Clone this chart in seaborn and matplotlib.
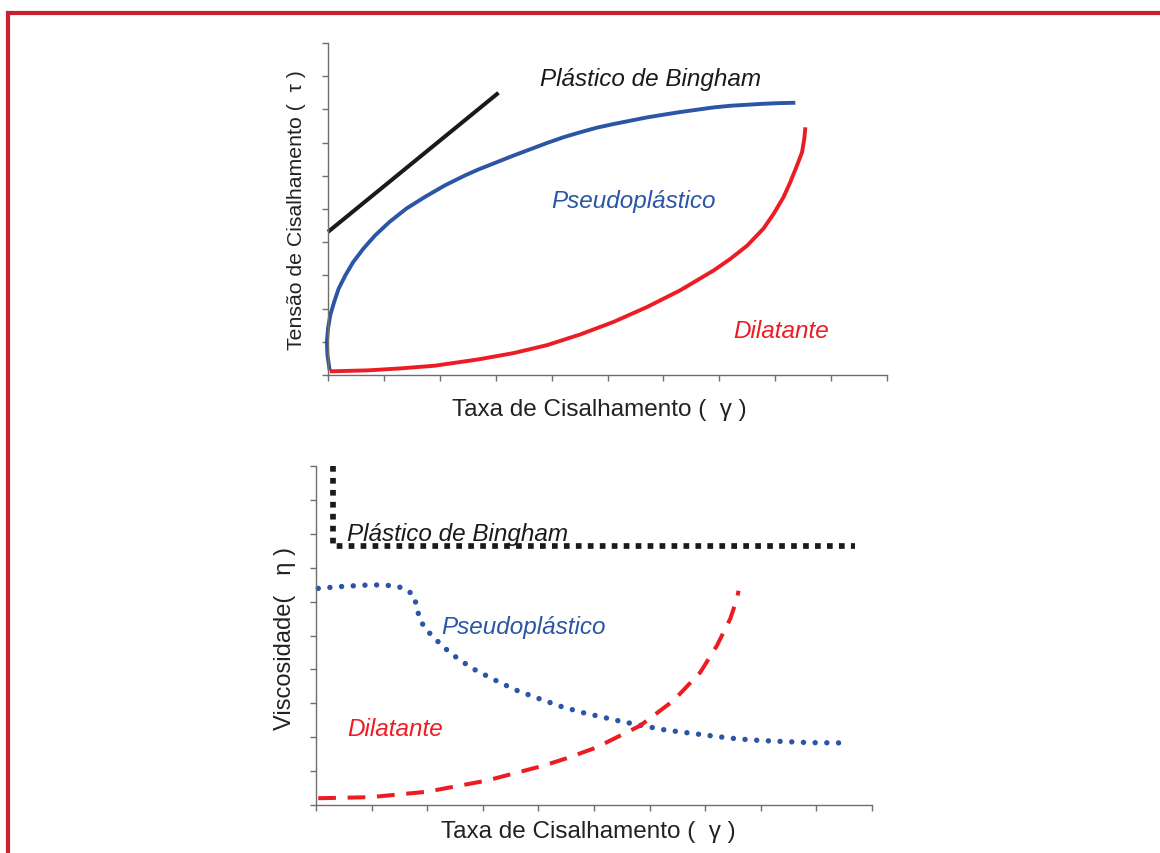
import matplotlib
matplotlib.use("Agg")
import matplotlib.pyplot as plt
from matplotlib.patches import Rectangle
import seaborn as sns

# ---- Tensão de cisalhamento x taxa de cisalhamento ----
bingham_tau_x = [0.0, 3.05]
bingham_tau_y = [4.31, 8.50]

pseudo_tau_x = [0.03, -0.01, -0.02, 0.0, 0.04, 0.11, 0.19, 0.31, 0.45, 0.63,
                0.84, 1.10, 1.40, 1.73, 2.09, 2.45, 2.69, 3.02, 3.32, 3.62,
                3.92, 4.21, 4.51, 4.81, 5.11, 5.41, 5.71, 6.00, 6.30, 6.60,
                6.90, 7.20, 7.50, 7.79, 8.09, 8.36]
pseudo_tau_y = [0.14, 0.60, 1.00, 1.40, 1.80, 2.20, 2.60, 3.00, 3.40, 3.80,
                4.20, 4.61, 5.01, 5.36, 5.71, 6.01, 6.19, 6.41, 6.61, 6.80,
                6.99, 7.16, 7.31, 7.45, 7.56, 7.66, 7.76, 7.84, 7.92, 7.99,
                8.06, 8.11, 8.14, 8.17, 8.19, 8.20]

dilat_tau_x = [0.03, 0.72, 1.31, 1.91, 2.69, 3.32, 3.92, 4.51, 5.11, 5.71,
               6.30, 6.60, 6.90, 7.20, 7.50, 7.79, 7.97, 8.15, 8.27, 8.39,
               8.48, 8.52, 8.54]
dilat_tau_y = [0.11, 0.14, 0.20, 0.28, 0.47, 0.66, 0.90, 1.22, 1.60, 2.05,
               2.55, 2.85, 3.15, 3.50, 3.90, 4.41, 4.85, 5.36, 5.81, 6.31,
               6.71, 7.11, 7.46]

# ---- Viscosidade x taxa de cisalhamento ----
bingham_eta_x = [0.30, 0.30, 9.69]
bingham_eta_y = [10.0, 7.64, 7.64]

pseudo_eta_x = [0.04, 0.50, 0.94, 1.15, 1.37, 1.58, 1.76, 1.81, 1.86, 1.96,
                2.12, 2.28, 2.46, 2.81, 3.20, 3.58, 3.99, 4.40, 4.81, 5.24,
                5.45, 5.87, 6.29, 6.73, 7.16, 7.58, 8.02, 8.45, 8.88, 9.53]
pseudo_eta_y = [6.39, 6.45, 6.49, 6.49, 6.47, 6.40, 6.19, 5.86, 5.51, 5.21,
                4.94, 4.68, 4.43, 4.03, 3.70, 3.40, 3.15, 2.91, 2.72, 2.56,
                2.48, 2.34, 2.21, 2.12, 2.03, 1.95, 1.90, 1.87, 1.84, 1.83]

dilat_eta_x = [0.04, 0.97, 1.99, 3.07, 4.09, 4.51, 5.05, 5.23, 5.83, 6.43,
               6.91, 7.21, 7.45, 7.57, 7.60]
dilat_eta_y = [0.20, 0.23, 0.39, 0.72, 1.16, 1.38, 1.70, 1.85, 2.34, 3.08,
               3.91, 4.70, 5.49, 6.08, 6.32]

ticks = list(range(11))

BLUE = "#2C55A5"
RED = "#EC1C24"
BLACK = "#1A1A1A"
AXIS = "#6E6E6E"
TEXT = "#222222"

sns.set_theme(style="white")
plt.rcParams["font.family"] = ["Liberation Sans", "DejaVu Sans"]

fig = plt.figure(figsize=(11.6, 8.54), dpi=100)
fig.patch.set_facecolor("white")

ax_top = fig.add_axes([328 / 1160, 1 - 376 / 854, 559 / 1160, 332 / 854])
ax_bot = fig.add_axes([316 / 1160, 1 - 806 / 854, 556 / 1160, 339 / 854])

for ax in (ax_top, ax_bot):
    ax.set_xlim(0, 10)
    ax.set_ylim(0, 10)
    ax.set_xticks(ticks)
    ax.set_yticks(ticks)
    ax.set_xticklabels([])
    ax.set_yticklabels([])
    ax.tick_params(direction="out", length=4.5, width=1.0, color=AXIS,
                   bottom=True, left=True)
    for side in ("top", "right"):
        ax.spines[side].set_visible(False)
    for side in ("left", "bottom"):
        ax.spines[side].set_color(AXIS)
        ax.spines[side].set_linewidth(1.0)
    ax.set_facecolor("none")

# top panel: solid curves
sns.lineplot(x=bingham_tau_x, y=bingham_tau_y, ax=ax_top, color=BLACK,
             linewidth=2.9, sort=False, estimator=None)
sns.lineplot(x=pseudo_tau_x, y=pseudo_tau_y, ax=ax_top, color=BLUE,
             linewidth=2.8, sort=False, estimator=None)
sns.lineplot(x=dilat_tau_x, y=dilat_tau_y, ax=ax_top, color=RED,
             linewidth=2.8, sort=False, estimator=None)
for ln in ax_top.lines:
    ln.set_clip_on(False)
    ln.set_solid_capstyle("butt")
    ln.set_solid_joinstyle("round")

# bottom panel: dotted / dashed curves
sns.lineplot(x=bingham_eta_x, y=bingham_eta_y, ax=ax_bot, color=BLACK,
             linewidth=4.1, sort=False, estimator=None)
ln = ax_bot.lines[-1]
ln.set_linestyle((0, (1.0, 1.1)))
ln.set_dash_capstyle("butt")

sns.lineplot(x=pseudo_eta_x, y=pseudo_eta_y, ax=ax_bot, color=BLUE,
             linewidth=3.9, sort=False, estimator=None)
ln = ax_bot.lines[-1]
ln.set_linestyle((0, (0.01, 2.15)))
ln.set_dash_capstyle("round")

sns.lineplot(x=dilat_eta_x, y=dilat_eta_y, ax=ax_bot, color=RED,
             linewidth=2.9, sort=False, estimator=None)
ln = ax_bot.lines[-1]
ln.set_linestyle((0, (4.4, 2.9)))
ln.set_dash_capstyle("butt")

for ln in ax_bot.lines:
    ln.set_clip_on(False)

# curve names
name_kw = dict(style="italic", fontsize=17.5, va="baseline", ha="left")
ax_top.text(3.80, 8.74, "Plástico de Bingham", color=BLACK, **name_kw)
ax_top.text(3.99, 5.07, "Pseudoplástico", color=BLUE, **name_kw)
ax_top.text(7.25, 1.13, "Dilatante", color=RED, **name_kw)

ax_bot.text(0.55, 7.83, "Plástico de Bingham", color=BLACK, **name_kw)
ax_bot.text(2.26, 5.07, "Pseudoplástico", color=BLUE, **name_kw)
ax_bot.text(0.57, 2.06, "Dilatante", color=RED, **name_kw)

# axis titles
lab_kw = dict(color=TEXT, va="center", ha="center")
fig.text(599 / 1160, 1 - 410 / 854, "Taxa de Cisalhamento (  γ )",
         fontsize=17.5, **lab_kw)
fig.text(297 / 1160, 1 - 210 / 854, "Tensão de Cisalhamento (  τ )",
         rotation=90, fontsize=15.3, **lab_kw)
fig.text(588 / 1160, 1 - 832 / 854, "Taxa de Cisalhamento (  γ )",
         fontsize=17.5, **lab_kw)
fig.text(285 / 1160, 1 - 639 / 854, "Viscosidade(   η )",
         rotation=90, fontsize=17, **lab_kw)

# page frame (top and left edges)
frame = Rectangle((8 / 1160, -0.2), 1.5, 1.2 - 13.5 / 854,
                  transform=fig.transFigure, fill=False,
                  edgecolor="#C8202F", linewidth=3.0, clip_on=False)
fig.add_artist(frame)

fig.savefig("out.png", dpi=100, facecolor="white")
